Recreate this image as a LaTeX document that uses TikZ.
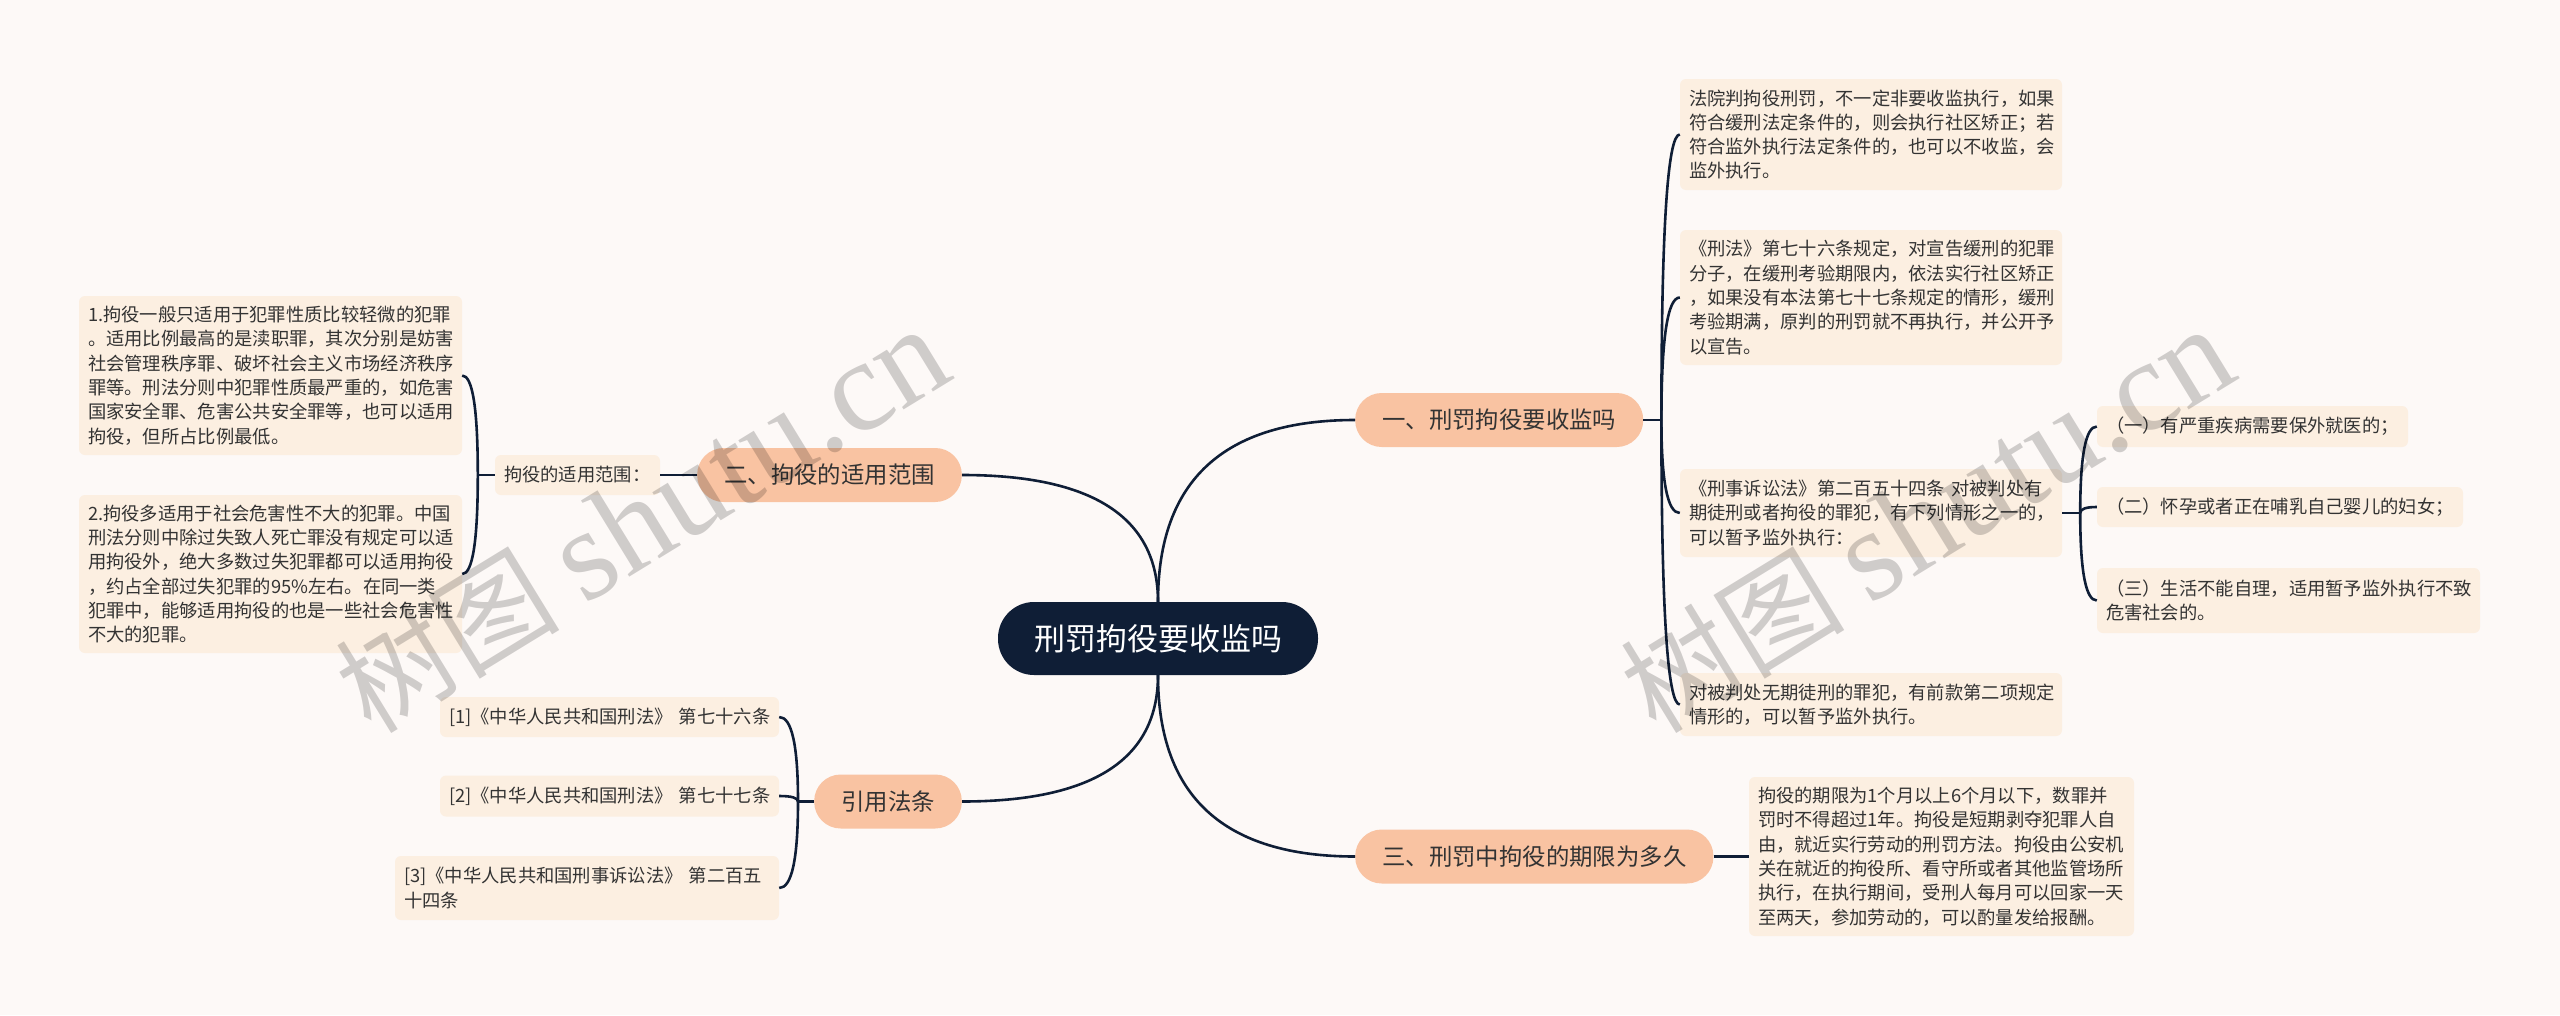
\documentclass[tikz,border=0pt]{standalone}
\usepackage{fontspec}
\setmainfont{Noto Sans CJK SC}
\newfontfamily\wmserif{Liberation Serif}
\usetikzlibrary{calc}
\definecolor{bg}{HTML}{FDF9F7}
\definecolor{navy}{HTML}{0F1E36}
\definecolor{salmon}{HTML}{F9C3A2}
\definecolor{peach}{HTML}{FCEFE1}
\definecolor{ink}{HTML}{333333}
\newcommand{\leaffont}{\fontsize{18.3}{24.3}\selectfont}
\newcommand{\brfont}{\fontsize{23.4}{28}\selectfont}
\newcommand{\ctfont}{\fontsize{31}{36}\selectfont}
\begin{document}
\begin{tikzpicture}[x=1pt,y=-1pt,
  leaf/.style={fill=peach, rounded corners=6pt, text=ink, font=\leaffont, align=left, inner xsep=9pt, inner ysep=0pt},
  branch/.style={fill=salmon, rounded corners=26.5pt, text=ink, font=\brfont, minimum height=54pt, inner xsep=27pt, inner ysep=0pt},
  center node/.style={fill=navy, rounded corners=36pt, text=white, font=\ctfont, minimum height=73pt, inner xsep=36pt, inner ysep=0pt},
  link/.style={draw=navy, line width=2.6pt},
  quad/.style={to path={.. controls ($(\tikztostart)!0.6667!(\tikztostart|-\tikztotarget)$) and ($(\tikztotarget)!0.6667!(\tikztostart|-\tikztotarget)$) .. (\tikztotarget)}},
  wm/.style={text=black, text opacity=0.18, rotate=31.5}
]
\path[use as bounding box, fill=bg] (0,0) rectangle (2560,1015);

% central
\node[center node] (c) at (1158,638.5) {刑罚拘役要收监吗};

% branches
\node[branch, anchor=west] (b1) at (1355,420) {一、刑罚拘役要收监吗};
\node[branch, anchor=east] (b2) at (962,475) {二、拘役的适用范围};
\node[branch, anchor=west] (b3) at (1355,856.5) {三、刑罚中拘役的期限为多久};
\node[branch, anchor=east] (b4) at (962,801.5) {引用法条};

% branch 1 leaves
\node[leaf, text width=364pt, minimum height=111pt] (l1) at (1871,134.5) {法院判拘役刑罚，不一定非要收监执行，如果\\符合缓刑法定条件的，则会执行社区矫正；若\\符合监外执行法定条件的，也可以不收监，会\\监外执行。};
\node[leaf, text width=364pt, minimum height=135pt] (l2) at (1871,297.5) {《刑法》第七十六条规定，对宣告缓刑的犯罪\\分子，在缓刑考验期限内，依法实行社区矫正\\，如果没有本法第七十七条规定的情形，缓刑\\考验期满，原判的刑罚就不再执行，并公开予\\以宣告。};
\node[leaf, text width=364pt, minimum height=88pt] (l3) at (1871,513) {《刑事诉讼法》第二百五十四条~对被判处有\\期徒刑或者拘役的罪犯，有下列情形之一的，\\可以暂予监外执行：};
\node[leaf, text width=364pt, minimum height=63pt] (l4) at (1871,704.5) {对被判处无期徒刑的罪犯，有前款第二项规定\\情形的，可以暂予监外执行。};

% sub leaves
\node[leaf, text width=293pt, minimum height=41pt] (s1) at (2252.5,426.5) {（一）有严重疾病需要保外就医的；};
\node[leaf, text width=348pt, minimum height=40pt] (s2) at (2280,507) {（二）怀孕或者正在哺乳自己婴儿的妇女；};
\node[leaf, text width=365pt, minimum height=65pt] (s3) at (2288.5,600.5) {（三）生活不能自理，适用暂予监外执行不致\\危害社会的。};

% branch 3 leaf
\node[leaf, text width=367pt, minimum height=159pt] (l5) at (1941.5,856.5) {拘役的期限为1个月以上6个月以下，数罪并\\罚时不得超过1年。拘役是短期剥夺犯罪人自\\由，就近实行劳动的刑罚方法。拘役由公安机\\关在就近的拘役所、看守所或者其他监管场所\\执行，在执行期间，受刑人每月可以回家一天\\至两天，参加劳动的，可以酌量发给报酬。};

% branch 2
\node[leaf, text width=147pt, minimum height=40pt] (lab) at (577.5,475) {拘役的适用范围：};
\node[leaf, text width=365pt, minimum height=159pt] (ba) at (270.5,375.5) {1.拘役一般只适用于犯罪性质比较轻微的犯罪\\。适用比例最高的是渎职罪，其次分别是妨害\\社会管理秩序罪、破坏社会主义市场经济秩序\\罪等。刑法分则中犯罪性质最严重的，如危害\\国家安全罪、危害公共安全罪等，也可以适用\\拘役，但所占比例最低。};
\node[leaf, text width=365pt, minimum height=158pt] (bb) at (270.5,574) {2.拘役多适用于社会危害性不大的犯罪。中国\\刑法分则中除过失致人死亡罪没有规定可以适\\用拘役外，绝大多数过失犯罪都可以适用拘役\\，约占全部过失犯罪的95\%左右。在同一类\\犯罪中，能够适用拘役的也是一些社会危害性\\不大的犯罪。};

% references
\node[leaf, text width=321pt, minimum height=40pt] (r1) at (609.5,717) {\mbox{[1]《中华人民共和国刑法》 第七十六条}};
\node[leaf, text width=321pt, minimum height=41pt] (r2) at (609.5,796) {\mbox{[2]《中华人民共和国刑法》 第七十七条}};
\node[leaf, text width=366pt, minimum height=64pt] (r3) at (587,888) {[3]《中华人民共和国刑事诉讼法》~第二百五\\十四条};

% central connectors
\draw[link] (c.north) to[quad] (b1.west);
\draw[link] (c.north) to[quad] (b2.east);
\draw[link] (c.south) to[quad] (b3.west);
\draw[link] (c.south) to[quad] (b4.east);

% branch 1 bracket
\coordinate (k1) at ($(b1.east)+(18,0)$);
\draw[link] (b1.east) -- (k1);
\foreach \t in {l1,l2,l3,l4} \draw[link] (k1) to[quad] (\t.west);

% sub bracket
\coordinate (k3) at ($(l3.east)+(18,0)$);
\draw[link] (l3.east) -- (k3);
\foreach \t in {s1,s2,s3} \draw[link] (k3) to[quad] (\t.west);

% branch 3
\draw[link] (b3.east) -- (l5.west);

% branch 2
\draw[link] (b2.west) -- (lab.east);
\coordinate (k2) at ($(lab.west)+(-17,0)$);
\draw[link] (lab.west) -- (k2);
\foreach \t in {ba,bb} \draw[link] (k2) to[quad] (\t.east);

% references bracket
\coordinate (k4) at ($(b4.west)+(-16,0)$);
\draw[link] (b4.west) -- (k4);
\foreach \t in {r1,r2,r3} \draw[link] (k4) to[quad] (\t.east);

% watermarks
\node[wm] (w1) at (642,520) {\fontsize{112}{112}\selectfont 树图 {\wmserif\fontsize{130}{130}\selectfont shutu.cn}};
\node[wm] (w2) at (1927,520) {\fontsize{112}{112}\selectfont 树图 {\wmserif\fontsize{130}{130}\selectfont shutu.cn}};
\end{tikzpicture}
\end{document}
